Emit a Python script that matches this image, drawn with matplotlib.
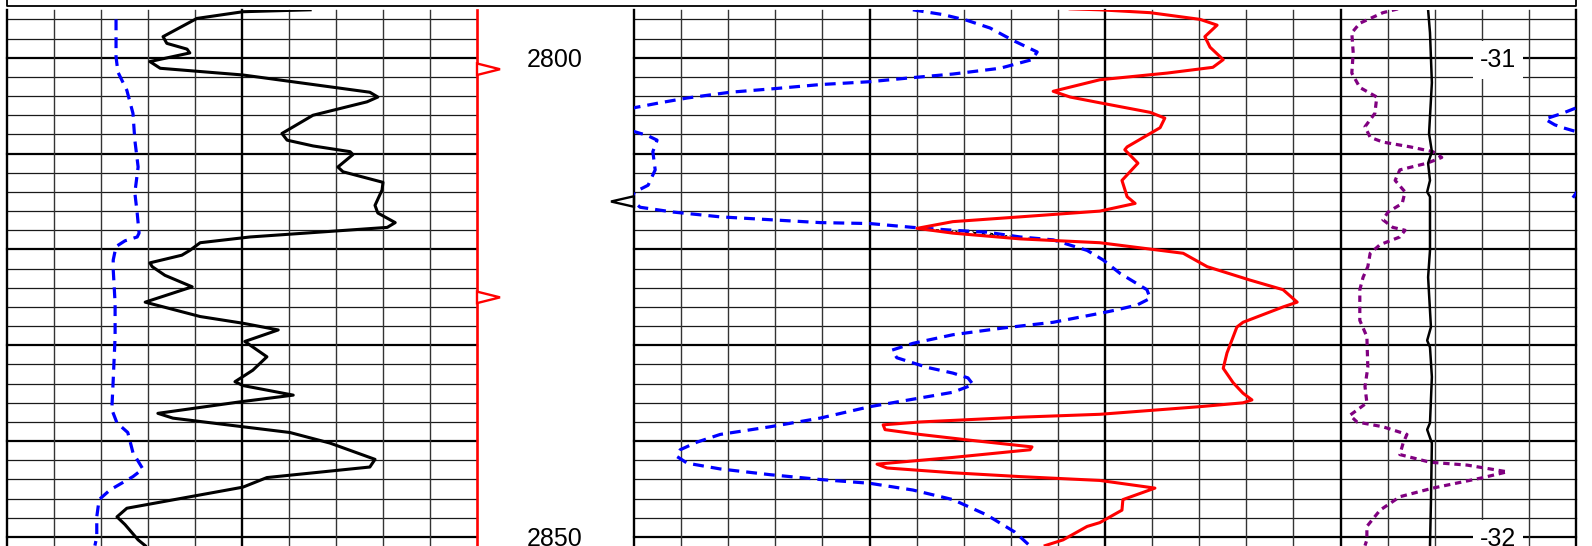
import numpy as np
import matplotlib
matplotlib.use('Agg')
import matplotlib.pyplot as plt
from matplotlib.patches import Polygon
from matplotlib.lines import Line2D

plt.rcParams['font.family'] = ['Liberation Sans', 'DejaVu Sans']
plt.rcParams['hatch.linewidth'] = 1.0

# ---- data: (depth m, value) read off the log ----
# track 1 scale 0..100, tracks 2+3 share one 0..200 scale
gr_log = [(2795.0, 64.5), (2795.2, 50.2), (2795.9, 40.4), (2797.8, 33.2), (2798.5, 34.0),
          (2799.1, 38.3), (2799.5, 38.9), (2800.4, 30.4), (2801.1, 32.6), (2801.8, 50.2),
          (2803.6, 77.2), (2804.1, 78.9), (2804.6, 76.6), (2806.0, 65.1), (2807.9, 58.5),
          (2808.6, 59.6), (2809.2, 65.1), (2809.8, 73.0), (2810.1, 73.6), (2811.4, 70.4),
          (2811.9, 71.5), (2813.0, 80.0), (2813.8, 79.8), (2815.4, 78.3), (2816.2, 78.9),
          (2817.2, 82.6), (2817.7, 80.9), (2818.7, 51.7), (2819.3, 41.1), (2820.1, 38.9),
          (2820.6, 37.2), (2821.4, 30.4), (2821.8, 30.9), (2822.7, 33.6), (2823.9, 39.4),
          (2825.5, 29.4), (2827.0, 41.1), (2827.7, 50.2), (2828.4, 57.7), (2829.6, 50.6),
          (2831.2, 55.3), (2832.6, 52.3), (2833.8, 48.5), (2834.2, 50.2), (2835.2, 60.9),
          (2835.9, 49.6), (2837.1, 32.1), (2837.6, 35.3), (2838.5, 50.2), (2839.1, 60.2),
          (2840.2, 68.7), (2841.9, 78.3), (2842.7, 77.2), (2843.8, 55.3), (2844.8, 50.2),
          (2847.0, 25.5), (2847.9, 23.4), (2848.7, 25.1), (2850.3, 27.9), (2850.9, 29.4)]

t1_blue = [(2796.0, 23.2), (2799.9, 23.2), (2801.5, 23.6), (2803.4, 25.5), (2805.8, 26.8),
           (2808.6, 27.2), (2811.4, 27.9), (2814.1, 27.2), (2816.2, 27.7), (2818.3, 28.1),
           (2818.7, 27.7), (2819.1, 25.1), (2819.7, 23.2), (2821.1, 22.6), (2822.1, 22.6),
           (2825.6, 23.0), (2829.1, 23.0), (2833.6, 22.6), (2836.7, 22.3), (2838.1, 23.4),
           (2839.1, 25.7), (2841.2, 26.8), (2842.9, 28.9), (2843.7, 26.8), (2845.1, 21.9),
           (2846.1, 19.6), (2847.9, 19.1), (2850.0, 19.1), (2850.9, 18.7)]

t2_blue = [(2795.0, 59.2), (2795.5, 65.6), (2796.1, 70.7), (2796.9, 75.6), (2798.2, 80.5),
           (2799.4, 85.6), (2800.2, 84.5), (2801.1, 77.7), (2801.7, 67.7), (2802.1, 58.6),
           (2802.5, 50.1), (2802.8, 39.5), (2803.2, 30.4), (2803.6, 20.4), (2804.2, 11.3),
           (2804.7, 5.5), (2805.2, 0.2), (2805.8, -2.9), (2806.4, -6.6), (2807.0, -4.5),
           (2807.3, -2.8), (2807.7, 0.0), (2808.1, 2.8), (2808.6, 4.9), (2809.8, 4.0),
           (2811.7, 4.5), (2813.3, 3.0), (2814.0, 0.2), (2814.7, -0.8), (2815.6, 1.3),
           (2816.1, 8.3), (2816.6, 18.3), (2816.9, 28.9), (2817.2, 39.5), (2817.3, 50.1),
           (2817.7, 59.2), (2818.0, 67.7), (2818.2, 74.9), (2818.7, 82.0), (2819.0, 89.0),
           (2820.1, 96.2), (2821.1, 99.6), (2822.5, 103.2), (2824.2, 108.9), (2825.1, 109.6),
           (2825.8, 106.8), (2826.3, 102.5), (2826.6, 99.6), (2827.6, 89.0), (2828.2, 78.3),
           (2828.9, 67.7), (2829.8, 59.2), (2830.5, 54.8), (2831.3, 55.8), (2832.3, 62.2),
           (2832.9, 67.7), (2833.4, 70.9), (2834.1, 72.0), (2834.9, 67.7), (2835.5, 60.7),
           (2836.4, 50.1), (2837.6, 39.5), (2838.5, 28.9), (2839.3, 18.3), (2840.1, 13.4),
           (2840.9, 9.8), (2841.6, 9.1), (2842.3, 11.3), (2842.9, 18.3), (2843.5, 28.9),
           (2844.0, 39.5), (2844.4, 50.1), (2845.1, 59.2), (2846.1, 67.7), (2847.7, 74.9),
           (2849.5, 80.9), (2850.9, 84.0)]

t2_red = [(2794.9, 92.6), (2795.0, 98.9), (2795.3, 109.6), (2796.0, 120.2), (2796.6, 123.8),
          (2797.8, 121.2), (2798.9, 122.3), (2800.2, 125.1), (2801.0, 122.9), (2801.6, 113.2),
          (2802.3, 98.9), (2803.5, 89.0), (2804.1, 92.6), (2804.7, 98.9), (2805.7, 109.6),
          (2806.3, 112.7), (2807.3, 111.7), (2809.3, 104.7), (2809.6, 104.2), (2811.0, 107.0),
          (2812.8, 103.6), (2814.5, 104.7), (2815.2, 106.4), (2816.0, 98.9), (2816.6, 82.0),
          (2817.1, 67.7), (2817.8, 60.1), (2818.3, 67.7), (2818.9, 82.0), (2819.3, 98.9),
          (2820.4, 116.6), (2821.8, 121.7), (2823.2, 130.8), (2824.2, 137.8), (2825.5, 140.8),
          (2826.0, 137.8), (2827.6, 129.3), (2828.1, 128.0), (2830.8, 125.9), (2832.4, 125.1),
          (2833.9, 127.2), (2835.0, 129.3), (2835.7, 131.2), (2836.0, 129.3), (2836.4, 120.2),
          (2837.2, 98.9), (2837.5, 82.0), (2838.0, 60.7), (2838.3, 52.9), (2838.8, 53.3),
          (2839.3, 60.7), (2839.9, 71.3), (2840.6, 84.5), (2840.9, 84.1), (2841.7, 67.7),
          (2842.4, 51.6), (2842.8, 53.7), (2843.3, 67.7), (2843.7, 82.0), (2844.1, 98.9),
          (2844.9, 110.6), (2846.1, 103.8), (2847.2, 103.6), (2848.5, 98.9), (2848.9, 96.2),
          (2850.3, 91.1), (2850.9, 87.3)]

t3_purple = [(2794.9, 162.2), (2795.3, 159.0), (2796.4, 154.1), (2797.4, 152.4), (2799.5, 152.7),
             (2801.6, 152.4), (2803.1, 154.1), (2804.1, 157.7), (2805.8, 157.3), (2807.2, 155.2),
             (2808.3, 156.3), (2808.8, 159.0), (2809.3, 164.8), (2809.8, 169.6), (2810.4, 171.5),
             (2811.0, 168.4), (2811.7, 162.6), (2812.8, 161.6), (2814.0, 163.7), (2815.2, 163.1),
             (2816.1, 160.1), (2816.9, 159.0), (2817.7, 161.1), (2818.0, 163.7), (2818.7, 162.6),
             (2819.5, 158.4), (2820.4, 156.3), (2821.8, 155.8), (2822.9, 154.8), (2824.2, 154.1),
             (2827.4, 154.1), (2829.1, 155.6), (2832.3, 155.8), (2834.3, 155.2), (2836.0, 155.6),
             (2837.3, 152.0), (2838.0, 153.5), (2838.5, 159.0), (2839.3, 164.1), (2840.2, 163.3),
             (2841.4, 162.6), (2842.2, 169.0), (2842.5, 176.9), (2843.2, 185.4), (2843.8, 180.3),
             (2844.9, 169.6), (2845.8, 162.6), (2847.2, 158.4), (2848.9, 155.6), (2850.3, 155.6),
             (2850.9, 155.2)]

t3_black = [(2795.0, 168.6), (2797.4, 169.0), (2802.6, 169.4), (2807.9, 168.8), (2809.8, 169.4),
            (2811.0, 168.6), (2812.8, 169.0), (2814.0, 168.4), (2814.5, 169.0), (2820.1, 169.0),
            (2822.9, 168.6), (2828.1, 169.2), (2829.5, 168.4), (2830.2, 169.0), (2833.3, 169.4),
            (2838.1, 169.0), (2838.8, 168.4), (2840.2, 169.4), (2846.4, 169.2), (2850.9, 169.0)]

red_flags = [2801.2, 2825.0]
black_flags = [2815.0]
depth_labels = [2800, 2850]
right_labels = ['-31', '-32']

# ---- layout (pixels) ----
W, H = 1592, 546
TOP_PX = 10
D_TOP, D_BOT = 2795.02, 2850.94

fig = plt.figure(figsize=(W / 100, H / 100), dpi=100)


def px_axes(x0, x1):
    ax = fig.add_axes([x0 / W, 0, (x1 - x0) / W, (H - TOP_PX) / H])
    ax.set_ylim(D_BOT, D_TOP)
    ax.axis('off')
    return ax


ax1 = px_axes(7, 477)
axd = px_axes(477, 634)
ax2 = px_axes(634, 1576)
ax1.set_xlim(0, 100)
axd.set_xlim(0, 157)
ax2.set_xlim(0, 200)


def grid(ax, xmax, skip_last=False):
    for d in range(2796, 2852, 2):
        heavy = d % 10 == 0
        ax.axhline(d, color='black' if heavy else '#1a1a1a', lw=1.6 if heavy else 0.9,
                   zorder=1, clip_on=False)
    for x in range(0, xmax + 1, 10):
        if skip_last and x == xmax:
            continue
        heavy = x % 50 == 0
        ax.axvline(x, color='black' if heavy else '#333333', lw=1.7 if heavy else 1.0,
                   zorder=1, clip_on=False)


grid(ax1, 100, skip_last=True)
grid(ax2, 200)
ax1.axvline(100, color='red', lw=1.9, zorder=3, clip_on=False)

# ---- track 1 ----
d, v = np.array(t1_blue).T
ax1.plot(v, d, color='blue', lw=2.3, dashes=(3.4, 2.2), zorder=3)
d, v = np.array(gr_log).T
ax1.plot(v, d, color='black', lw=2.2, zorder=4, solid_joinstyle='round')

# ---- tracks 2 + 3 ----
bd, bv = np.array(t2_blue).T
rd, rv = np.array(t2_red).T

# crossover shading where red drops below blue
dg = np.linspace(2816.0, 2820.0, 400)
r_i = np.interp(dg, rd, rv)
b_i = np.interp(dg, bd, bv)
ax2.fill_betweenx(dg, r_i, b_i, where=r_i < b_i, facecolor='white', edgecolor='black',
                  hatch='xxxx', lw=0, zorder=2)

ax2.plot(bv, bd, color='blue', lw=2.3, dashes=(3.4, 2.2), zorder=3)
ax2.plot(bv + 200, bd, color='blue', lw=2.3, dashes=(3.4, 2.2), zorder=3)  # wrap-around
ax2.plot(rv, rd, color='red', lw=2.2, zorder=4, solid_joinstyle='round')

d, v = np.array(t3_purple).T
ax2.plot(v, d, color='#800080', lw=2.3, dashes=(2.0, 1.5), zorder=3)
d, v = np.array(t3_black).T
ax2.plot(v, d, color='black', lw=1.8, zorder=4)

for dep, lab in zip(depth_labels, right_labels):
    ax2.text(183.4, dep + 0.2, lab, ha='center', va='center', fontsize=18, zorder=6,
             bbox=dict(facecolor='white', edgecolor='none', pad=5))

# ---- depth track ----
for dep in depth_labels:
    axd.text(78, dep + 0.2, str(dep), ha='center', va='center', fontsize=18)

for dep in red_flags:
    axd.add_patch(Polygon([(0, dep - 0.6), (23, dep), (0, dep + 0.6)], closed=True,
                          facecolor='white', edgecolor='red', lw=1.7, clip_on=False, zorder=5))
for dep in black_flags:
    axd.add_patch(Polygon([(157, dep - 0.55), (134, dep), (157, dep + 0.55)], closed=True,
                          facecolor='white', edgecolor='black', lw=1.7, clip_on=False, zorder=5))

# header box bottom edge
fig.add_artist(Line2D([7 / W, 7 / W, 1576 / W, 1576 / W],
                      [1, 1 - 5.5 / H, 1 - 5.5 / H, 1],
                      transform=fig.transFigure, color='black', lw=1.3))

fig.savefig('out.png', dpi=100)
